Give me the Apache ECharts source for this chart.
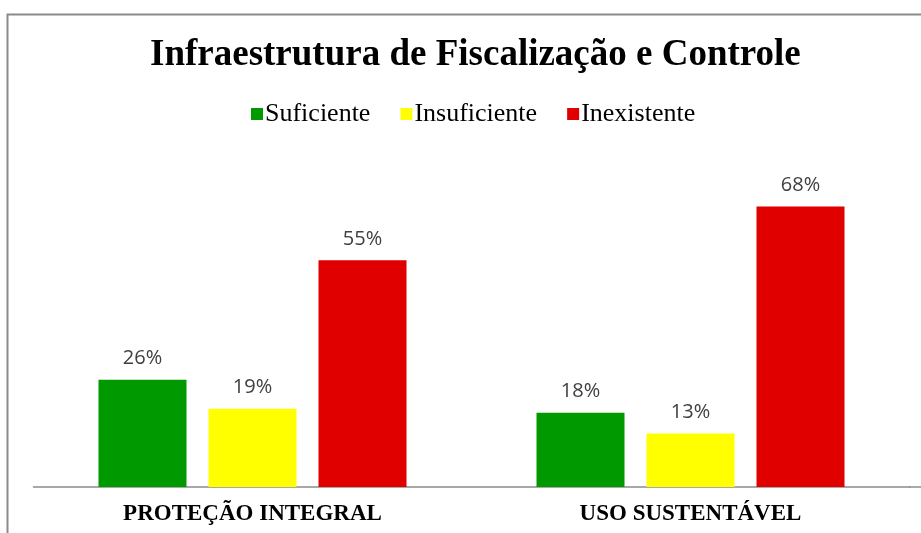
<!DOCTYPE html>
<html>
<head>
<meta charset="utf-8">
<script src="https://cdn.jsdelivr.net/npm/echarts@6/dist/echarts.min.js"></script>
<style>
  html, body { margin: 0; padding: 0; background: #fff; }
  #chart { width: 921px; height: 533px; }
</style>
</head>
<body>
<div id="chart"></div>
<script>
// Categories and percentages per infrastructure rating
const categories = ['PROTEÇÃO INTEGRAL', 'USO SUSTENTÁVEL'];
const suficiente = [26, 18];
const insuficiente = [19, 13];
const inexistente = [55, 68];
const seriesNames = ['Suficiente', 'Insuficiente', 'Inexistente'];

const colors = ['#009900', '#FFFF00', '#E00000'];
const serif = '"Liberation Serif", "Times New Roman", serif';
const sans = '"Open Sans", "Noto Sans", sans-serif';

const chart = echarts.init(document.getElementById('chart'));

function barSeries(name, data, color) {
  return {
    name: name,
    type: 'bar',
    data: data,
    barWidth: 88,
    barGap: '25%',
    itemStyle: { color: color },
    label: {
      show: true,
      position: 'top',
      distance: 11,
      formatter: '{c}%',
      fontFamily: sans,
      fontSize: 20,
      color: '#404040'
    }
  };
}

chart.setOption({
  animation: false,
  color: colors,
  title: {
    text: 'Infraestrutura de Fiscalização e Controle',
    left: 145,
    top: 32,
    textStyle: { fontFamily: serif, fontWeight: 'bold', fontSize: 37, color: '#000' }
  },
  legend: {
    data: seriesNames,
    top: 96,
    left: 246,
    itemWidth: 12,
    itemHeight: 12,
    itemGap: 30,
    icon: 'rect',
    textStyle: { fontFamily: serif, fontSize: 26, color: '#000', padding: [0, 0, 0, -3] }
  },
  grid: { left: 33.5, right: 11.5, top: 157, bottom: 46, containLabel: false },
  xAxis: {
    type: 'category',
    data: categories,
    axisTick: { show: false },
    axisLine: { lineStyle: { color: '#8C8C8C', width: 1.5 } },
    axisLabel: {
      margin: 16,
      fontFamily: serif,
      fontWeight: 'bold',
      fontSize: 23,
      color: '#000'
    }
  },
  yAxis: {
    type: 'value',
    min: 0,
    max: 80,
    show: false,
    splitLine: { show: false }
  },
  series: [
    barSeries(seriesNames[0], suficiente, colors[0]),
    barSeries(seriesNames[1], insuficiente, colors[1]),
    barSeries(seriesNames[2], inexistente, colors[2])
  ],
  graphic: [
    {
      type: 'rect',
      left: 5, top: 12,
      shape: { width: 940, height: 540 },
      style: { fill: 'none', stroke: '#8A8A8A', lineWidth: 2 },
      silent: true
    },
    {
      type: 'line',
      shape: { x1: 909, y1: 487, x2: 921, y2: 487 },
      style: { stroke: '#8C8C8C', lineWidth: 1.5 },
      silent: true
    }
  ]
});
</script>
</body>
</html>
